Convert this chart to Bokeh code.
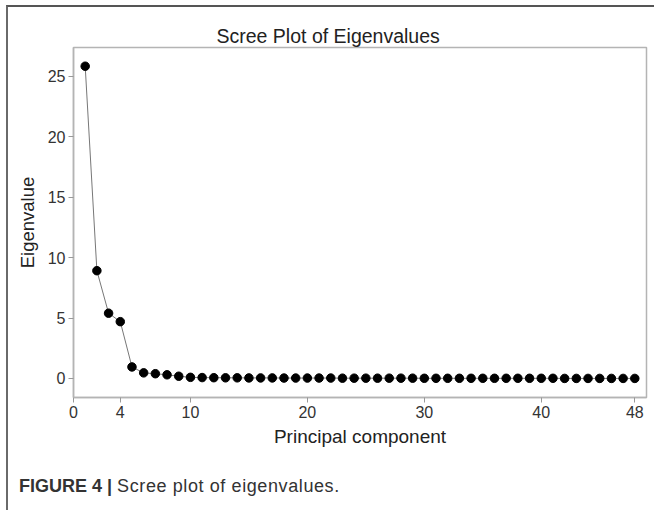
from bokeh.plotting import figure
from bokeh.models import Range1d, FixedTicker, Div, ColumnDataSource
from bokeh.layouts import column
from bokeh.embed import file_html
from bokeh.resources import INLINE

# Data
components = list(range(1, 49))
eigenvalues = [25.85, 8.92, 5.40, 4.70, 0.95, 0.46, 0.39, 0.30, 0.18, 0.09,
               0.07, 0.06, 0.05, 0.05, 0.04, 0.04, 0.04, 0.03, 0.03, 0.03,
               0.03, 0.03, 0.02, 0.02, 0.02, 0.02, 0.02, 0.02, 0.02, 0.01,
               0.01, 0.01, 0.01, 0.01, 0.01, 0.01, 0.01, 0.01, 0.01, 0.01,
               0.01, 0.00, 0.00, 0.00, 0.00, 0.00, 0.00, 0.00]
x_ticks = [0, 4, 10, 20, 30, 40, 48]
y_ticks = [0, 5, 10, 15, 20, 25]

title_text = "Scree Plot of Eigenvalues"
x_label = "Principal component"
y_label = "Eigenvalue"
caption_bold = "FIGURE 4 |"
caption_text = "Scree plot of eigenvalues."

FONT = "Liberation Sans"
FRAME = "#b4b4b4"

p = figure(width=646, height=453, output_backend="svg", toolbar_location=None,
           x_range=Range1d(0, 49), y_range=Range1d(-1.58, 27.4),
           min_border_left=65, min_border_right=8, min_border_top=40,
           min_border_bottom=63, title=title_text)
p.background_fill_color = "white"
p.border_fill_color = "white"
p.outline_line_color = FRAME
p.outline_line_width = 1.5
p.grid.visible = False

p.title.text_font = FONT
p.title.text_font_size = "19.5px"
p.title.text_font_style = "normal"
p.title.text_color = "#222222"
p.title.align = "left"
p.title.offset = 143
p.title.standoff = 2

for ax in (p.xaxis[0], p.yaxis[0]):
    ax.axis_line_color = FRAME
    ax.axis_line_width = 1.5
    ax.major_tick_line_color = "#999999"
    ax.major_tick_in = 0
    ax.major_tick_out = 5
    ax.minor_tick_line_color = None
    ax.major_label_text_font = FONT
    ax.major_label_text_font_size = "16px"
    ax.major_label_text_color = "#333333"
    ax.axis_label_text_font = FONT
    ax.axis_label_text_font_style = "normal"
    ax.axis_label_text_color = "#222222"

p.xaxis.axis_label_text_font_size = "19px"
p.yaxis.axis_label_text_font_size = "18.5px"
p.xaxis.ticker = FixedTicker(ticks=x_ticks)
p.yaxis.ticker = FixedTicker(ticks=y_ticks)
p.xaxis.axis_label = x_label
p.yaxis.axis_label = y_label
p.xaxis.major_label_standoff = 3
p.yaxis.major_label_standoff = 3
p.xaxis.axis_label_standoff = 5
p.yaxis.axis_label_standoff = 7

src = ColumnDataSource(dict(x=components, y=eigenvalues))
p.line("x", "y", source=src, line_color="#777777", line_width=1)
p.scatter("x", "y", source=src, size=8.5, fill_color="black", line_color="black")

caption = Div(
    text=(f"<b>{caption_bold}</b> "
          f"<span style='letter-spacing:0.6px'>{caption_text}</span>"),
    width=646, height=50,
    styles={"font-family": FONT, "font-size": "18px", "color": "#333333",
            "padding-top": "11px", "padding-left": "6px",
            "box-sizing": "border-box", "line-height": "20px"},
)

layout = column(p, caption, spacing=0,
                styles={"margin-left": "6px", "margin-top": "5px",
                        "border-left": "2px solid #6a6a6a",
                        "border-top": "2px solid #555555",
                        "background-color": "white"})

open("out.html", "w").write(file_html(layout, INLINE))
